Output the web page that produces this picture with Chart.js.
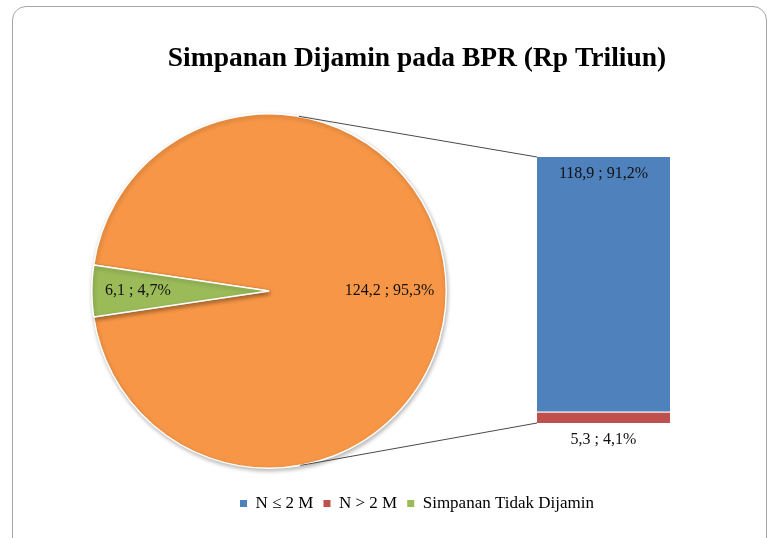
<!DOCTYPE html>
<html>
<head>
<meta charset="utf-8">
<script src="https://cdn.jsdelivr.net/npm/chart.js@4.4.1/dist/chart.umd.min.js"></script>
<style>
  html, body { margin: 0; padding: 0; background: #ffffff; }
  #wrap { position: relative; width: 768px; height: 538px; overflow: hidden; background: #ffffff; }
  #frame { position: absolute; left: 12px; top: 6px; width: 755px; height: 570px;
           border: 1.5px solid #a6a6a6; border-radius: 14px; box-sizing: border-box; }
  canvas { position: absolute; left: 0; top: 0; }
</style>
</head>
<body>
<div id="wrap">
  <div id="frame"></div>
  <canvas id="pie" width="768" height="538"></canvas>
  <canvas id="bar" width="768" height="538"></canvas>
</div>
<script>
// ---------------- data ----------------
const titleText = 'Simpanan Dijamin pada BPR (Rp Triliun)';
const pieCategories = ['Simpanan Dijamin', 'Simpanan Tidak Dijamin'];
const pieValues = [124.2, 6.1];
const piePercents = [95.3, 4.7];
const barCategories = ['N > 2 M', 'N \u2264 2 M'];   // stacked bottom -> top
const barValues = [5.3, 118.9];
const barPercents = [4.1, 91.2];
const legendLabels = ['N \u2264 2 M', 'N > 2 M', 'Simpanan Tidak Dijamin'];

// ---------------- styles ----------------
const SERIF = '"Liberation Serif", "Times New Roman", serif';
const ORANGE = '#F79646', GREEN = '#9BBB59', BLUE = '#4F81BD', RED = '#C0504D';
const pieColors = [ORANGE, GREEN];
const barColors = [RED, BLUE];
const legendColors = [BLUE, RED, GREEN];
const pieLabelRadius = [0.68, 0.74];
const TEXT = '#111111';

const fmt = v => v.toFixed(1).replace('.', ',');
const sum = a => a.reduce((s, v) => s + v, 0);
const pieTotal = sum(pieValues);
const barTotal = sum(barValues);
// the small slice is centred on the left (9 o'clock), as in the reference
const pieRotation = 270 - 360 * (pieValues[0] + pieValues[1] / 2) / pieTotal;

// ---------------- pie ----------------
const pieDeco = {
  id: 'pieDeco',
  beforeDatasetsDraw(chart) {
    const ctx = chart.ctx;
    ctx.save();
    ctx.shadowColor = 'rgba(0,0,0,0.28)';
    ctx.shadowBlur = 4;
    ctx.shadowOffsetX = 1;
    ctx.shadowOffsetY = 2;
  },
  afterDatasetsDraw(chart) {
    const ctx = chart.ctx;
    ctx.restore();
    const meta = chart.getDatasetMeta(0);
    ctx.save();
    ctx.font = '16px ' + SERIF;
    ctx.fillStyle = TEXT;
    ctx.textAlign = 'center';
    ctx.textBaseline = 'middle';
    meta.data.forEach((arc, i) => {
      const mid = (arc.startAngle + arc.endAngle) / 2;
      const r = arc.outerRadius * pieLabelRadius[i];
      const x = arc.x + Math.cos(mid) * r;
      const y = arc.y + Math.sin(mid) * r;
      ctx.fillText(fmt(pieValues[i]) + ' ; ' + fmt(piePercents[i]) + '%', x, y);
    });
    ctx.restore();
  }
};

const pieChart = new Chart(document.getElementById('pie'), {
  type: 'pie',
  data: {
    labels: pieCategories,
    datasets: [{
      data: pieValues,
      backgroundColor: pieColors,
      borderColor: '#ffffff',
      borderWidth: 1.5
    }]
  },
  options: {
    responsive: false,
    animation: false,
    events: [],
    rotation: pieRotation,
    layout: { padding: { left: 91, right: 321, top: 113, bottom: 69 } },
    plugins: {
      legend: { display: false },
      title: { display: false },
      tooltip: { enabled: false }
    }
  },
  plugins: [pieDeco]
});

// ---------------- bar (with title, legend and connectors) ----------------
function tangentPoint(cx, cy, r, px, py, upper) {
  const dx = px - cx, dy = py - cy;
  const d = Math.hypot(dx, dy);
  const phi = Math.atan2(dy, dx);
  const a = Math.acos(Math.min(1, r / d));
  const t = upper ? phi - a : phi + a;
  return [cx + Math.cos(t) * r, cy + Math.sin(t) * r];
}

const barDeco = {
  id: 'barDeco',
  beforeDatasetsDraw(chart) {
    const ctx = chart.ctx;
    ctx.save();
    ctx.shadowColor = 'rgba(0,0,0,0.25)';
    ctx.shadowBlur = 4;
    ctx.shadowOffsetX = 1.5;
    ctx.shadowOffsetY = 1.5;
  },
  afterDatasetsDraw(chart) {
    const ctx = chart.ctx;
    ctx.restore();
    const redEl = chart.getDatasetMeta(0).data[0];
    const blueEl = chart.getDatasetMeta(1).data[0];

    // connector lines from the pie to the bar
    const arc = pieChart.getDatasetMeta(0).data[0];
    const topCorner = [blueEl.x - blueEl.width / 2, blueEl.y];
    const botCorner = [redEl.x - redEl.width / 2, redEl.base];
    const t1 = tangentPoint(arc.x, arc.y, arc.outerRadius, topCorner[0], topCorner[1], true);
    const t2 = tangentPoint(arc.x, arc.y, arc.outerRadius, botCorner[0], botCorner[1], false);
    ctx.save();
    ctx.strokeStyle = '#4a4a4a';
    ctx.lineWidth = 1;
    ctx.beginPath();
    ctx.moveTo(t1[0], t1[1]); ctx.lineTo(topCorner[0], topCorner[1]);
    ctx.moveTo(t2[0], t2[1]); ctx.lineTo(botCorner[0], botCorner[1]);
    ctx.stroke();
    ctx.restore();

    // data labels
    ctx.save();
    ctx.font = '16px ' + SERIF;
    ctx.fillStyle = TEXT;
    ctx.textAlign = 'center';
    ctx.textBaseline = 'middle';
    ctx.fillText(fmt(barValues[1]) + ' ; ' + fmt(barPercents[1]) + '%', blueEl.x, blueEl.y + 17);
    ctx.fillText(fmt(barValues[0]) + ' ; ' + fmt(barPercents[0]) + '%', redEl.x, redEl.base + 17);
    ctx.restore();
  }
};

new Chart(document.getElementById('bar'), {
  type: 'bar',
  data: {
    labels: [''],
    datasets: barCategories.map((name, i) => ({
      label: name,
      data: [barValues[i]],
      backgroundColor: barColors[i],
      borderColor: '#ffffff',
      borderWidth: i === 0 ? { top: 1.5, left: 0, right: 0, bottom: 0 } : 0,
      borderSkipped: false,
      barPercentage: 1,
      categoryPercentage: 1
    }))
  },
  options: {
    responsive: false,
    animation: false,
    events: [],
    layout: { padding: { left: 66, right: 0, top: 0, bottom: 16 } },
    scales: {
      x: {
        stacked: true, display: true,
        grid: { display: false }, border: { display: false }, ticks: { display: false },
        afterFit: s => { s.height = 62; }
      },
      y: {
        stacked: true, min: 0, max: barTotal, position: 'left', display: true,
        grid: { display: false }, border: { display: false }, ticks: { display: false },
        afterFit: s => { s.width = 471; }
      },
      yR: {
        type: 'linear', min: 0, max: 1, position: 'right', display: true,
        grid: { display: false }, border: { display: false }, ticks: { display: false },
        afterFit: s => { s.width = 98; }
      }
    },
    plugins: {
      title: {
        display: true,
        text: titleText,
        color: '#000000',
        font: { family: SERIF, size: 27.5, weight: 'bold' },
        padding: { top: 42, bottom: 82 }
      },
      legend: {
        display: true,
        position: 'bottom',
        labels: {
          boxWidth: 7,
          boxHeight: 7,
          padding: 10,
          color: TEXT,
          font: { family: SERIF, size: 17 },
          generateLabels: () => legendLabels.map((t, i) => ({
            text: t,
            fillStyle: legendColors[i],
            strokeStyle: legendColors[i],
            lineWidth: 0,
            hidden: false,
            index: i
          }))
        }
      },
      tooltip: { enabled: false }
    }
  },
  plugins: [barDeco]
});
</script>
</body>
</html>
